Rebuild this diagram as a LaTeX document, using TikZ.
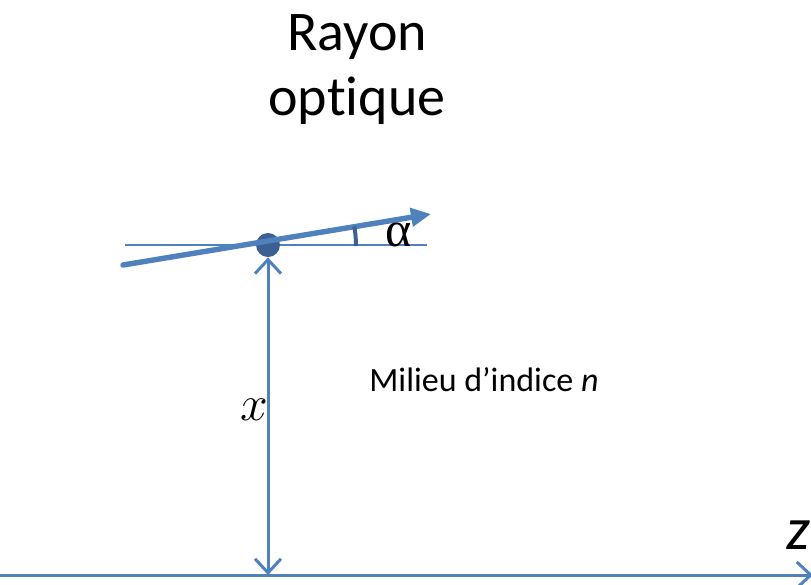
\documentclass[tikz,border=0pt]{standalone}
\usepackage{fontspec}
\setmainfont[Ligatures=NoCommon]{Carlito}
\newfontfamily\greekfont{Liberation Serif}
\usepackage{tikz}
\usetikzlibrary{arrows.meta}
\definecolor{raysblue}{RGB}{79,129,189}
\definecolor{darkblue}{RGB}{60,96,148}

\begin{document}
\begin{tikzpicture}[
    x=0.5pt, y=-0.5pt,
    thinline/.style={draw=raysblue, line width=0.8pt},
    ray/.style={draw=raysblue, line width=2.7pt, line cap=round, -{Triangle[length=10pt, width=9pt]}},
    axis/.style={draw=raysblue, line width=1.5pt, -{Straight Barb[length=7pt, width=13pt]}},
    label/.style={inner sep=0pt, text=black}
]
\useasboundingbox (0,0) rectangle (811,585);

% title
\node[label, align=center, font=\fontsize{28}{32.5}\selectfont] (title) at (357,70) {Rayon\\optique};

% reference horizontal and ray
\coordinate (hl) at (125,245);
\coordinate (hr) at (427,245);
\draw[thinline] (hl) -- (hr);
\node[circle, fill=darkblue, minimum size=12pt, inner sep=0pt] (dot) at (268,245) {};
\coordinate (raystart) at (123,265);
\coordinate (rayend) at (431,214);
\draw[ray] (raystart) -- (rayend);

% angle
\draw[darkblue, line width=2pt] (356,246) arc[start angle=0, end angle=-10, radius=113];
\node[label, font=\greekfont\fontsize{25}{25}\selectfont] (alpha) at (399,235) {α};

% axis and height
\coordinate (zleft) at (0,575);
\coordinate (zright) at (813,575);
\draw[axis] (zleft) -- (zright);
\coordinate (foot) at (268,575);
\draw[axis, {Straight Barb[length=7pt, width=13pt]}-{Straight Barb[length=7pt, width=13pt]}] (dot.south) -- (foot);

\node[label, font=\fontsize{24}{24}\selectfont] (xlab) at (254,410) {$x$};
\node[label, font=\fontsize{17}{17}\selectfont, anchor=west] (medium) at (369,380) {Milieu d’indice \textit{n}};
\node[label, font=\fontsize{30}{30}\selectfont, anchor=west] (zlab) at (786,535) {\textit{z}};

\end{tikzpicture}
\end{document}
